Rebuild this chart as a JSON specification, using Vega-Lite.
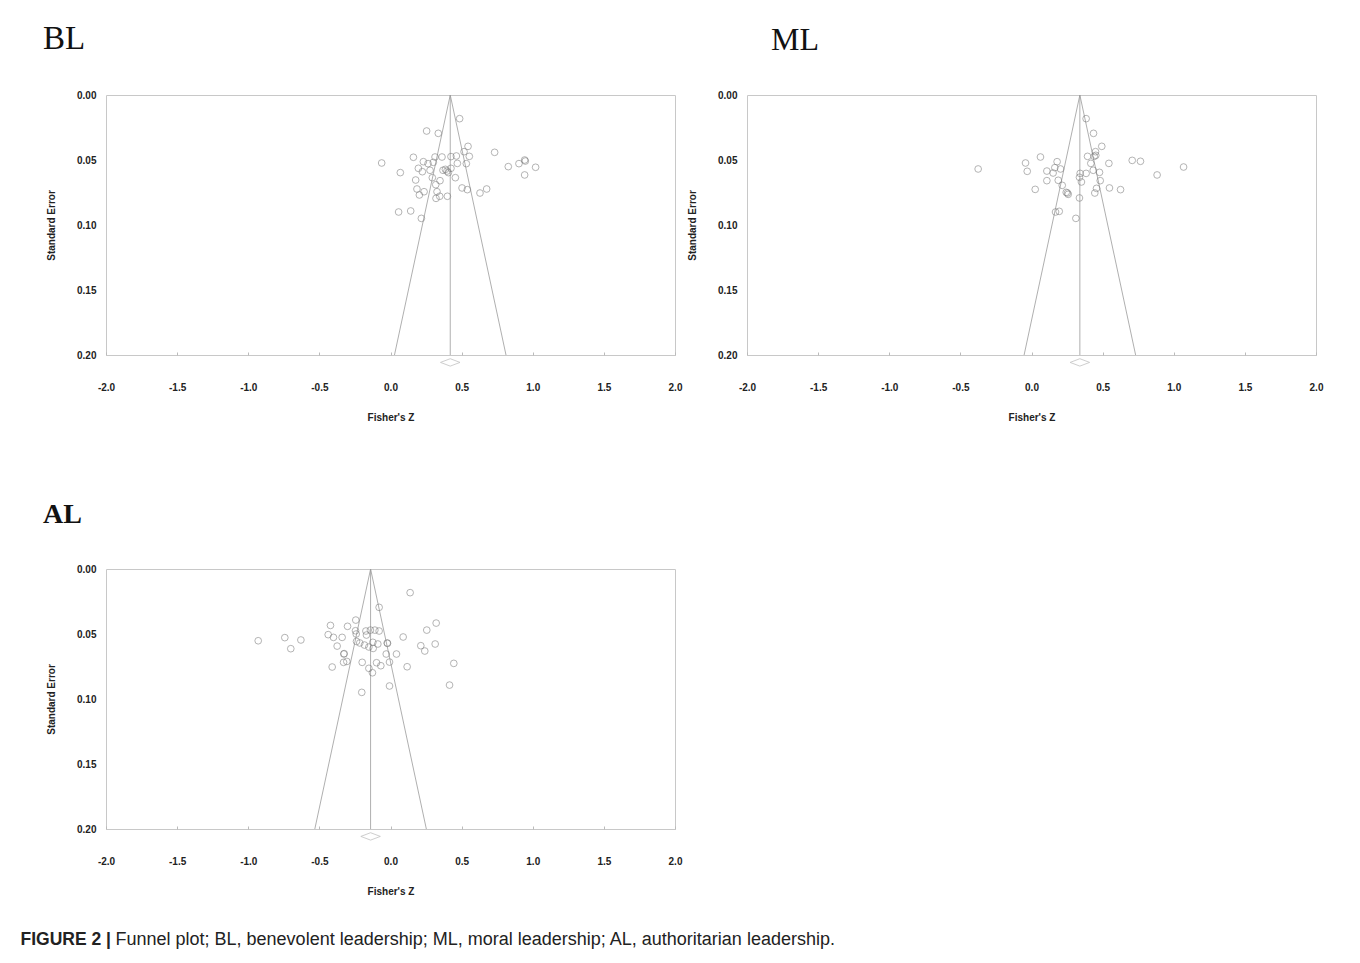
{
 "$schema": "https://vega.github.io/schema/vega-lite/v6.json",
 "background": "white",
 "padding": {"left": 20, "top": 22, "right": 5, "bottom": 5},
 "config": {
  "view": {"stroke": "#c8c8c8", "strokeWidth": 1},
  "axisX": {"domain": false, "grid": false, "ticks": true, "tickSize": -3, "tickColor": "#bbbbbb", "labelPadding": 30, "labelFont": "Liberation Sans Narrow, Liberation Sans, sans-serif", "labelFontSize": 10, "labelFontWeight": "bold", "labelColor": "#222222", "labelFlush": false, "labelOverlap": false, "titleFont": "Liberation Sans Narrow, Liberation Sans, sans-serif", "titleFontSize": 10, "titleFontWeight": "bold", "titleColor": "#222222", "titlePadding": 20},
  "axisY": {"domain": false, "grid": false, "ticks": false, "labelPadding": 10, "labelFont": "Liberation Sans Narrow, Liberation Sans, sans-serif", "labelFontSize": 10, "labelFontWeight": "bold", "labelColor": "#222222", "labelFlush": false, "labelOverlap": false, "titleFont": "Liberation Sans Narrow, Liberation Sans, sans-serif", "titleFontSize": 10, "titleFontWeight": "bold", "titleColor": "#222222", "titlePadding": 20}
 },
 "title": {"text": "FIGURE 2 |", "orient": "bottom", "anchor": "start", "font": "Liberation Sans", "fontSize": 17.5, "fontWeight": "bold", "color": "#222222", "offset": 0, "dx": -22, "dy": -18},
 "datasets": {
  "pts": [
   {"p":"BL","z":0.486,"se":0.0182},{"p":"BL","z":0.254,"se":0.0277},{"p":"BL","z":0.336,"se":0.0295},{"p":"BL","z":0.545,"se":0.0395},{"p":"BL","z":0.732,"se":0.0441},{"p":"BL","z":-0.062,"se":0.0523},{"p":"BL","z":0.161,"se":0.0479},{"p":"BL","z":0.231,"se":0.0513},{"p":"BL","z":0.264,"se":0.0528},{"p":"BL","z":0.313,"se":0.0477},{"p":"BL","z":0.301,"se":0.0518},{"p":"BL","z":0.362,"se":0.0477},{"p":"BL","z":0.425,"se":0.0474},{"p":"BL","z":0.463,"se":0.0469},{"p":"BL","z":0.517,"se":0.0436},{"p":"BL","z":0.554,"se":0.0472},{"p":"BL","z":0.470,"se":0.0526},{"p":"BL","z":0.533,"se":0.0528},{"p":"BL","z":0.069,"se":0.0597},{"p":"BL","z":0.196,"se":0.0564},{"p":"BL","z":0.224,"se":0.0590},{"p":"BL","z":0.278,"se":0.0579},{"p":"BL","z":0.369,"se":0.0579},{"p":"BL","z":0.386,"se":0.0572},{"p":"BL","z":0.397,"se":0.0585},{"p":"BL","z":0.425,"se":0.0564},{"p":"BL","z":0.407,"se":0.0597},{"p":"BL","z":0.456,"se":0.0636},{"p":"BL","z":0.177,"se":0.0654},{"p":"BL","z":0.294,"se":0.0636},{"p":"BL","z":0.348,"se":0.0659},{"p":"BL","z":0.318,"se":0.0690},{"p":"BL","z":0.186,"se":0.0723},{"p":"BL","z":0.236,"se":0.0744},{"p":"BL","z":0.203,"se":0.0769},{"p":"BL","z":0.327,"se":0.0744},{"p":"BL","z":0.320,"se":0.0795},{"p":"BL","z":0.346,"se":0.0779},{"p":"BL","z":0.400,"se":0.0779},{"p":"BL","z":0.503,"se":0.0715},{"p":"BL","z":0.540,"se":0.0728},{"p":"BL","z":0.629,"se":0.0754},{"p":"BL","z":0.676,"se":0.0723},{"p":"BL","z":0.828,"se":0.0551},{"p":"BL","z":0.903,"se":0.0528},{"p":"BL","z":0.948,"se":0.0508},{"p":"BL","z":0.943,"se":0.0500},{"p":"BL","z":1.020,"se":0.0556},{"p":"BL","z":0.943,"se":0.0615},{"p":"BL","z":0.057,"se":0.0900},{"p":"BL","z":0.142,"se":0.0892},{"p":"BL","z":0.217,"se":0.0949},
   {"p":"ML","z":0.384,"se":0.0182},{"p":"ML","z":0.436,"se":0.0295},{"p":"ML","z":0.494,"se":0.0395},{"p":"ML","z":0.450,"se":0.0436},{"p":"ML","z":0.394,"se":0.0472},{"p":"ML","z":0.441,"se":0.0472},{"p":"ML","z":0.452,"se":0.0464},{"p":"ML","z":0.063,"se":0.0477},{"p":"ML","z":-0.042,"se":0.0523},{"p":"ML","z":0.180,"se":0.0513},{"p":"ML","z":0.417,"se":0.0526},{"p":"ML","z":0.544,"se":0.0526},{"p":"ML","z":0.708,"se":0.0503},{"p":"ML","z":0.766,"se":0.0510},{"p":"ML","z":-0.375,"se":0.0569},{"p":"ML","z":-0.030,"se":0.0587},{"p":"ML","z":0.108,"se":0.0585},{"p":"ML","z":0.164,"se":0.0559},{"p":"ML","z":0.204,"se":0.0569},{"p":"ML","z":0.152,"se":0.0600},{"p":"ML","z":0.342,"se":0.0603},{"p":"ML","z":0.384,"se":0.0603},{"p":"ML","z":0.434,"se":0.0579},{"p":"ML","z":0.478,"se":0.0595},{"p":"ML","z":1.069,"se":0.0554},{"p":"ML","z":0.883,"se":0.0615},{"p":"ML","z":0.108,"se":0.0659},{"p":"ML","z":0.188,"se":0.0656},{"p":"ML","z":0.337,"se":0.0633},{"p":"ML","z":0.351,"se":0.0669},{"p":"ML","z":0.483,"se":0.0659},{"p":"ML","z":0.216,"se":0.0695},{"p":"ML","z":0.026,"se":0.0726},{"p":"ML","z":0.244,"se":0.0749},{"p":"ML","z":0.258,"se":0.0764},{"p":"ML","z":0.253,"se":0.0754},{"p":"ML","z":0.457,"se":0.0718},{"p":"ML","z":0.445,"se":0.0754},{"p":"ML","z":0.548,"se":0.0715},{"p":"ML","z":0.626,"se":0.0728},{"p":"ML","z":0.337,"se":0.0792},{"p":"ML","z":0.169,"se":0.0900},{"p":"ML","z":0.195,"se":0.0895},{"p":"ML","z":0.312,"se":0.0949},
   {"p":"AL","z":0.138,"se":0.0182},{"p":"AL","z":-0.080,"se":0.0295},{"p":"AL","z":-0.244,"se":0.0393},{"p":"AL","z":0.321,"se":0.0416},{"p":"AL","z":-0.422,"se":0.0434},{"p":"AL","z":-0.302,"se":0.0441},{"p":"AL","z":-0.246,"se":0.0475},{"p":"AL","z":-0.173,"se":0.0477},{"p":"AL","z":-0.141,"se":0.0470},{"p":"AL","z":-0.110,"se":0.0470},{"p":"AL","z":-0.080,"se":0.0477},{"p":"AL","z":0.255,"se":0.0470},{"p":"AL","z":-0.438,"se":0.0505},{"p":"AL","z":-0.401,"se":0.0526},{"p":"AL","z":-0.340,"se":0.0526},{"p":"AL","z":-0.241,"se":0.0500},{"p":"AL","z":-0.169,"se":0.0508},{"p":"AL","z":0.089,"se":0.0523},{"p":"AL","z":-0.930,"se":0.0552},{"p":"AL","z":-0.743,"se":0.0528},{"p":"AL","z":-0.630,"se":0.0546},{"p":"AL","z":-0.701,"se":0.0613},{"p":"AL","z":-0.239,"se":0.0557},{"p":"AL","z":-0.216,"se":0.0569},{"p":"AL","z":-0.183,"se":0.0585},{"p":"AL","z":-0.152,"se":0.0600},{"p":"AL","z":-0.124,"se":0.0564},{"p":"AL","z":-0.122,"se":0.0611},{"p":"AL","z":-0.089,"se":0.0577},{"p":"AL","z":-0.023,"se":0.0569},{"p":"AL","z":-0.021,"se":0.0572},{"p":"AL","z":-0.375,"se":0.0593},{"p":"AL","z":0.213,"se":0.0590},{"p":"AL","z":0.241,"se":0.0631},{"p":"AL","z":0.314,"se":0.0577},{"p":"AL","z":-0.328,"se":0.0654},{"p":"AL","z":-0.326,"se":0.0651},{"p":"AL","z":-0.030,"se":0.0654},{"p":"AL","z":0.042,"se":0.0654},{"p":"AL","z":-0.330,"se":0.0718},{"p":"AL","z":-0.307,"se":0.0711},{"p":"AL","z":-0.199,"se":0.0718},{"p":"AL","z":-0.098,"se":0.0721},{"p":"AL","z":-0.007,"se":0.0716},{"p":"AL","z":-0.068,"se":0.0744},{"p":"AL","z":-0.410,"se":0.0754},{"p":"AL","z":-0.152,"se":0.0764},{"p":"AL","z":-0.127,"se":0.0798},{"p":"AL","z":0.117,"se":0.0752},{"p":"AL","z":0.445,"se":0.0726},{"p":"AL","z":-0.007,"se":0.0900},{"p":"AL","z":0.415,"se":0.0893},{"p":"AL","z":-0.202,"se":0.0949}
  ],
  "fun": [
   {"p":"BL","s":"f","o":1,"z":0.028,"se":0.2},{"p":"BL","s":"f","o":2,"z":0.42,"se":0},{"p":"BL","s":"f","o":3,"z":0.812,"se":0.2},{"p":"BL","s":"c","o":1,"z":0.42,"se":0},{"p":"BL","s":"c","o":2,"z":0.42,"se":0.2},
   {"p":"ML","s":"f","o":1,"z":-0.052,"se":0.2},{"p":"ML","s":"f","o":2,"z":0.34,"se":0},{"p":"ML","s":"f","o":3,"z":0.732,"se":0.2},{"p":"ML","s":"c","o":1,"z":0.34,"se":0},{"p":"ML","s":"c","o":2,"z":0.34,"se":0.2},
   {"p":"AL","s":"f","o":1,"z":-0.532,"se":0.2},{"p":"AL","s":"f","o":2,"z":-0.14,"se":0},{"p":"AL","s":"f","o":3,"z":0.252,"se":0.2},{"p":"AL","s":"c","o":1,"z":-0.14,"se":0},{"p":"AL","s":"c","o":2,"z":-0.14,"se":0.2}
  ],
  "dia": [
   {"p":"BL","z":0.42,"se":0.2057},{"p":"ML","z":0.34,"se":0.2057},{"p":"AL","z":-0.14,"se":0.2057}
  ]
 },
 "bounds": "flush",
 "columns": 2,
 "spacing": {"row": 214, "column": 72},
 "concat": [
  {
   "width": 569, "height": 260,
   "title": {"text": "BL", "anchor": "start", "frame": "group", "dx": -63, "offset": 8, "baseline": "alphabetic", "font": "Liberation Serif", "fontSize": 33, "fontWeight": "normal", "color": "#111111"},
   "layer": [
    {"data": {"name": "fun"}, "transform": [{"filter": "datum.p == 'BL'"}], "mark": {"type": "line", "stroke": "#9a9a9a", "strokeWidth": 0.8}, "encoding": {"x": {"field": "z", "type": "quantitative", "scale": {"domain": [-2, 2], "nice": false, "zero": false}, "title": "Fisher's Z", "axis": {"values": [-2, -1.5, -1, -0.5, 0, 0.5, 1, 1.5, 2], "labelExpr": "(datum.value < 0 ? '-' : '') + format(abs(datum.value), '.1f')"}}, "y": {"field": "se", "type": "quantitative", "scale": {"domain": [0, 0.2], "reverse": true, "nice": false}, "title": "Standard Error", "axis": {"values": [0, 0.05, 0.1, 0.15, 0.2], "format": ".2f"}}, "detail": {"field": "s"}, "order": {"field": "o"}}},
    {"data": {"name": "pts"}, "transform": [{"filter": "datum.p == 'BL'"}], "mark": {"type": "point", "shape": "circle", "filled": false, "stroke": "#7a7a7a", "size": 45, "strokeWidth": 0.8}, "encoding": {"x": {"field": "z", "type": "quantitative"}, "y": {"field": "se", "type": "quantitative"}}},
    {"data": {"name": "dia"}, "transform": [{"filter": "datum.p == 'BL'"}], "mark": {"type": "point", "shape": "M-1,0L0,-0.38L1,0L0,0.38Z", "filled": false, "stroke": "#a8a8a8", "size": 380, "strokeWidth": 0.8}, "encoding": {"x": {"field": "z", "type": "quantitative"}, "y": {"field": "se", "type": "quantitative"}}}
   ]
  },
  {
   "width": 569, "height": 260,
   "title": {"text": "ML", "anchor": "start", "frame": "group", "dx": 24, "offset": 8, "baseline": "alphabetic", "font": "Liberation Serif", "fontSize": 32, "fontWeight": "normal", "color": "#111111"},
   "layer": [
    {"data": {"name": "fun"}, "transform": [{"filter": "datum.p == 'ML'"}], "mark": {"type": "line", "stroke": "#9a9a9a", "strokeWidth": 0.8}, "encoding": {"x": {"field": "z", "type": "quantitative", "scale": {"domain": [-2, 2], "nice": false, "zero": false}, "title": "Fisher's Z", "axis": {"values": [-2, -1.5, -1, -0.5, 0, 0.5, 1, 1.5, 2], "labelExpr": "(datum.value < 0 ? '-' : '') + format(abs(datum.value), '.1f')"}}, "y": {"field": "se", "type": "quantitative", "scale": {"domain": [0, 0.2], "reverse": true, "nice": false}, "title": "Standard Error", "axis": {"values": [0, 0.05, 0.1, 0.15, 0.2], "format": ".2f"}}, "detail": {"field": "s"}, "order": {"field": "o"}}},
    {"data": {"name": "pts"}, "transform": [{"filter": "datum.p == 'ML'"}], "mark": {"type": "point", "shape": "circle", "filled": false, "stroke": "#7a7a7a", "size": 45, "strokeWidth": 0.8}, "encoding": {"x": {"field": "z", "type": "quantitative"}, "y": {"field": "se", "type": "quantitative"}}},
    {"data": {"name": "dia"}, "transform": [{"filter": "datum.p == 'ML'"}], "mark": {"type": "point", "shape": "M-1,0L0,-0.38L1,0L0,0.38Z", "filled": false, "stroke": "#a8a8a8", "size": 380, "strokeWidth": 0.8}, "encoding": {"x": {"field": "z", "type": "quantitative"}, "y": {"field": "se", "type": "quantitative"}}}
   ]
  },
  {
   "bounds": "flush",
   "title": {"text": "Funnel plot; BL, benevolent leadership; ML, moral leadership; AL, authoritarian leadership.", "orient": "bottom", "anchor": "start", "font": "Liberation Sans", "fontSize": 18, "fontWeight": "normal", "color": "#222222", "offset": 34, "dx": 73},
   "vconcat": [
    {
     "width": 569, "height": 260,
     "title": {"text": "AL", "anchor": "start", "frame": "group", "dx": -63, "offset": 13, "baseline": "alphabetic", "font": "Liberation Serif", "fontSize": 28, "fontWeight": "bold", "color": "#111111"},
     "layer": [
      {"data": {"name": "fun"}, "transform": [{"filter": "datum.p == 'AL'"}], "mark": {"type": "line", "stroke": "#9a9a9a", "strokeWidth": 0.8}, "encoding": {"x": {"field": "z", "type": "quantitative", "scale": {"domain": [-2, 2], "nice": false, "zero": false}, "title": "Fisher's Z", "axis": {"values": [-2, -1.5, -1, -0.5, 0, 0.5, 1, 1.5, 2], "labelExpr": "(datum.value < 0 ? '-' : '') + format(abs(datum.value), '.1f')"}}, "y": {"field": "se", "type": "quantitative", "scale": {"domain": [0, 0.2], "reverse": true, "nice": false}, "title": "Standard Error", "axis": {"values": [0, 0.05, 0.1, 0.15, 0.2], "format": ".2f"}}, "detail": {"field": "s"}, "order": {"field": "o"}}},
      {"data": {"name": "pts"}, "transform": [{"filter": "datum.p == 'AL'"}], "mark": {"type": "point", "shape": "circle", "filled": false, "stroke": "#7a7a7a", "size": 45, "strokeWidth": 0.8}, "encoding": {"x": {"field": "z", "type": "quantitative"}, "y": {"field": "se", "type": "quantitative"}}},
      {"data": {"name": "dia"}, "transform": [{"filter": "datum.p == 'AL'"}], "mark": {"type": "point", "shape": "M-1,0L0,-0.38L1,0L0,0.38Z", "filled": false, "stroke": "#a8a8a8", "size": 380, "strokeWidth": 0.8}, "encoding": {"x": {"field": "z", "type": "quantitative"}, "y": {"field": "se", "type": "quantitative"}}}
     ]
    }
   ]
  }
 ]
}
